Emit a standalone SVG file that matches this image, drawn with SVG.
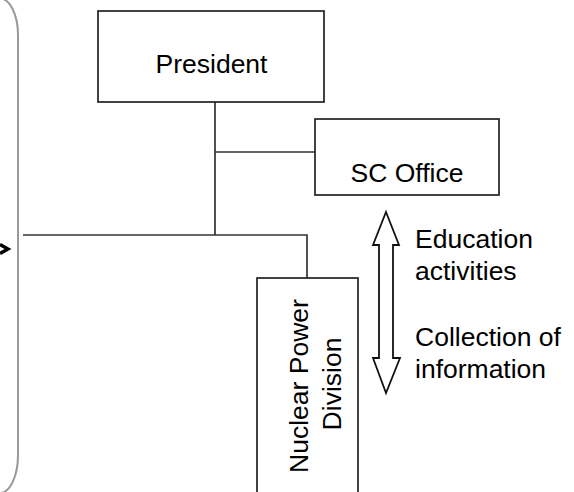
<svg xmlns="http://www.w3.org/2000/svg" width="574" height="492" viewBox="0 0 574 492">
<style>
.box{fill:#fff;stroke:#222;stroke-width:1.7}
.con{fill:none;stroke:#333;stroke-width:1.7}
.t{font-family:"Liberation Sans",Arial,sans-serif;font-size:26.5px;fill:#000}
</style>
<rect width="574" height="492" fill="#fff"/>
<g id="bracket">
<path d="M 0,-1.5 A 18 36.5 0 0 1 18 35 L 18 455 A 18 38 0 0 1 0 493" fill="none" stroke="#999" stroke-width="2"/>
<polyline points="0,244.5 8,249 0,253.5" fill="none" stroke="#000" stroke-width="3.4"/>
</g>
<g id="connectors">
<path class="con" d="M 215,102 L 215,235 M 215,152 L 315,152 M 23,235 L 307,235 L 307,278"/>
</g>
<g id="president">
<rect class="box" x="98" y="11" width="226" height="91"/>
<text class="t" x="211.5" y="73" text-anchor="middle">President</text>
</g>
<g id="sc-office">
<rect class="box" x="315" y="119" width="184" height="76"/>
<text class="t" x="407" y="182" text-anchor="middle">SC Office</text>
</g>
<g id="nuclear">
<rect class="box" x="257" y="278" width="101" height="230"/>
<text class="t" transform="translate(308,386) rotate(-90)" text-anchor="middle">Nuclear Power</text>
<text class="t" transform="translate(341,384) rotate(-90)" text-anchor="middle">Division</text>
</g>
<g id="exchange-arrow">
<polygon points="386,212 399,245 393,245 393,358 400,358 386,393 373,358 379,358 379,245 373,245" fill="#fff" stroke="#111" stroke-width="1.8" stroke-linejoin="miter"/>
</g>
<g id="labels">
<text class="t" x="415" y="248">Education</text>
<text class="t" x="415" y="280">activities</text>
<text class="t" x="415" y="346">Collection of</text>
<text class="t" x="415" y="378">information</text>
</g>
</svg>
